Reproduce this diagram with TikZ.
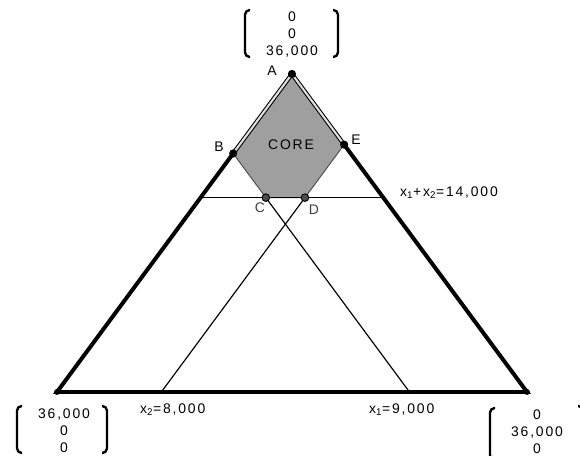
\documentclass[tikz,border=0pt]{standalone}
\usepackage{fontspec}
\setmainfont{Liberation Sans}[LetterSpace=13]
\begin{document}
\begin{tikzpicture}[x=0.03cm, y=-0.03cm,
  dot/.style={circle, fill=black, inner sep=0pt, minimum size=7pt},
  cdot/.style={circle, draw=black, fill=gray!60!black, line width=0.8pt, inner sep=0pt, minimum size=6.5pt},
  side/.style={line width=3.4pt, line cap=round},
  thinline/.style={line width=1pt},
  brak/.style={line width=2pt, rounded corners=4pt},
  lbl/.style={font=\fontsize{11.9}{14.5}\selectfont, inner sep=0pt},
  vec/.style={lbl, align=center}]
  \useasboundingbox (0,0) rectangle (580,456);
  \clip (0,0) rectangle (580,456);
  % corners of the simplex
  \coordinate (L) at (57,392);
  \coordinate (R) at (527,392);
  \coordinate (T) at (292,74);
  % core vertices
  \coordinate (a) at (barycentric cs:L=0,R=0,T=36);
  \coordinate (b) at (barycentric cs:L=9,R=0,T=27);
  \coordinate (c) at (barycentric cs:L=9,R=5,T=22);
  \coordinate (d) at (barycentric cs:L=6,R=8,T=22);
  \coordinate (e) at (barycentric cs:L=0,R=8,T=28);
  % ends of the constraint lines
  \coordinate (h1) at (barycentric cs:L=14,R=0,T=22);
  \coordinate (h2) at (barycentric cs:L=0,R=14,T=22);
  \coordinate (p8) at (barycentric cs:L=28,R=8,T=0);
  \coordinate (p9) at (barycentric cs:L=9,R=27,T=0);
  \fill[gray!75] (a) -- (b) -- (c) -- (d) -- (e) -- cycle;
  \draw[gray!60!black, line width=0.8pt] (b) -- (c) -- (d) -- (e);
  \draw[thinline] (h1) -- (h2);
  \draw[thinline] (p8) -- (d);
  \draw[thinline] (p9) -- (c);
  \draw[side] (b) -- (L) -- (R) -- (e);
  \draw[line width=0.9pt, double=gray!25, double distance=1.8pt] (b) -- (a) -- (e);
  \node[dot] (A) at (a) {};
  \node[dot] (B) at (b) {};
  \node[dot] (E) at (e) {};
  \node[cdot] (C) at (c) {};
  \node[cdot] (D) at (d) {};
  \node[dot, minimum size=5pt] (V1) at (L) {};
  \node[dot, minimum size=5pt] (V2) at (R) {};
  \node[lbl] (lA) at (272,71) {A};
  \node[lbl] (lB) at (219,147) {B};
  \node[lbl] (lE) at (356,140) {E};
  \node[lbl, text=black!75] (lC) at (260,208) {C};
  \node[lbl, text=black!75] (lD) at (314,210) {D};
  \node[lbl] (core) at (291,145) {CORE};
  \node[lbl, anchor=west] (h) at (400,193) {x\textsubscript{1}+x\textsubscript{2}=14,000};
  \node[lbl, anchor=west] (k8) at (140,410) {x\textsubscript{2}=8,000};
  \node[lbl, anchor=west] (k9) at (369,410) {x\textsubscript{1}=9,000};
  % payoff vectors
  \node[vec] (vT) at (292,35) {0\\0\\36,000};
  \draw[brak] (250,10) -- (245,10) -- (245,57) -- (250,57);
  \draw[brak] (333,10) -- (338,10) -- (338,57) -- (333,57);
  \node[vec] (vL) at (64,431) {36,000\\0\\0};
  \draw[brak] (22,406) -- (17,406) -- (17,453) -- (22,453);
  \draw[brak] (102,406) -- (107,406) -- (107,453) -- (102,453);
  \node[vec] (vR) at (537,432) {0\\36,000\\0};
  \draw[brak] (495,408) -- (490,408) -- (490,460) -- (495,460);
  \draw[brak] (578,406) -- (583,406) -- (583,460);
\end{tikzpicture}
\end{document}
